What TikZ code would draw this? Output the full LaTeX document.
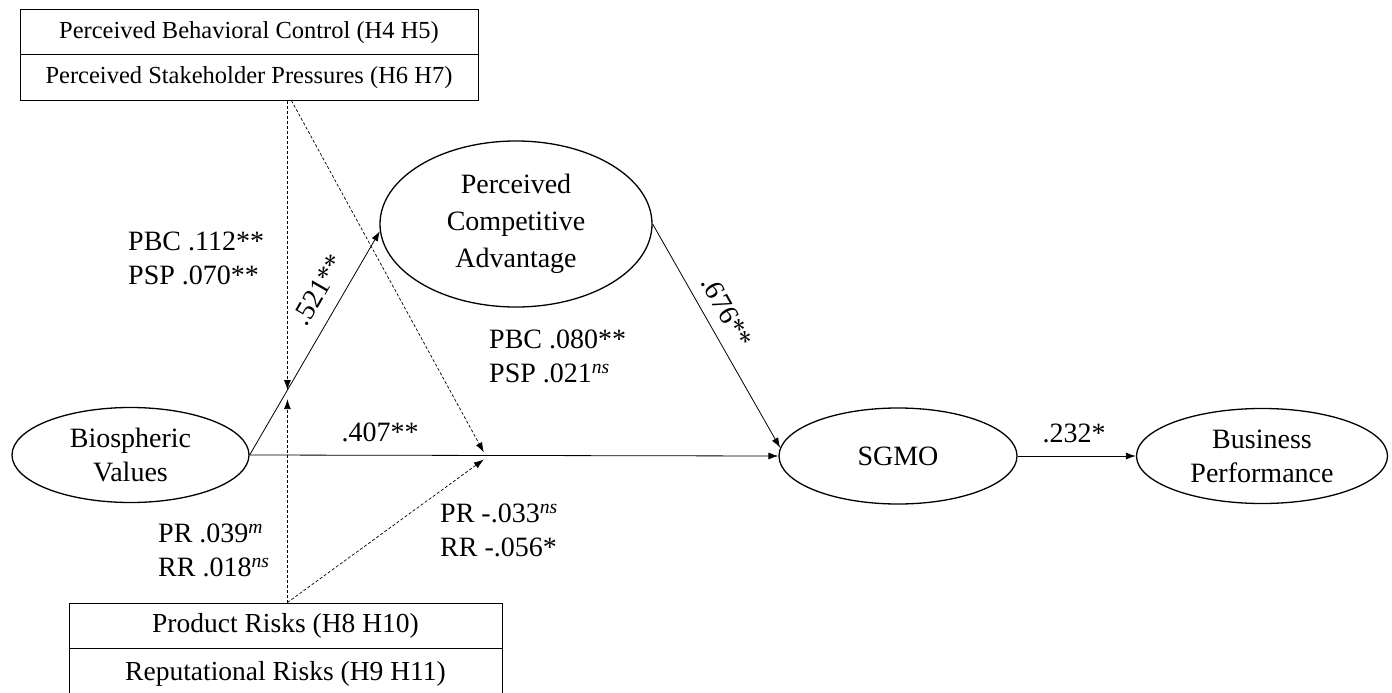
\documentclass[tikz,border=0pt]{standalone}
\usepackage{fontspec}
\setmainfont{Liberation Serif}
\usetikzlibrary{arrows.meta,shapes.geometric,calc}
\begin{document}
\begin{tikzpicture}[x=1pt,y=-1pt,
  txt/.style={font=\fontsize{28}{34}\selectfont},
  latent/.style={ellipse,draw,line width=1.3pt,inner sep=0pt,align=center,font=\fontsize{28}{34}\selectfont},
  cell/.style={draw,line width=1pt,inner sep=0pt},
  topcell/.style={cell,font=\fontsize{24.5}{30}\selectfont},
  botcell/.style={cell,font=\fontsize{27.5}{32}\selectfont},
  effect/.style={line width=0.8pt,-{Latex[length=10pt,width=7pt]}},
  moder/.style={line width=0.7pt,dash pattern=on 3pt off 2pt,-{Latex[length=10pt,width=7pt]}},
  lab/.style={txt,inner sep=0pt,align=left,anchor=west}
]
\useasboundingbox (0,0) rectangle (1392,693);
% moderator boxes
\node[topcell,minimum width=458pt,minimum height=45pt] (pbc) at (249,32.5) {Perceived Behavioral Control (H4 H5)};
\node[topcell,minimum width=458pt,minimum height=45pt] (psp) at (249,77.5) {Perceived Stakeholder Pressures (H6 H7)};
\node[botcell,minimum width=433pt,minimum height=45pt] (pr) at (285.5,625.5) {Product Risks (H8 H10)};
\node[botcell,minimum width=433pt,minimum height=52pt] (rr) at (285.5,674) {Reputational Risks (H9 H11)};
% latent variables
\node[latent,minimum width=237pt,minimum height=95pt] (bio) at (130.5,455) {Biospheric\\Values};
\node[latent,minimum width=272pt,minimum height=166pt,font=\fontsize{28}{37}\selectfont] (pca) at (516,224) {Perceived\\Competitive\\Advantage};
\node[latent,minimum width=238pt,minimum height=96pt] (sgmo) at (898,456) {SGMO};
\node[latent,minimum width=251pt,minimum height=95pt] (bp) at (1262,456) {Business\\Performance};
% main effects
\draw[effect] (bio.east) -- (pca.183);
\draw[effect] (bio.east) -- (sgmo.west);
\draw[effect] (pca.east) -- (sgmo.176);
\draw[effect] (sgmo.east) -- (bp.west);
% moderation targets
\coordinate (m1) at ($(bio.east)!0.29!(pca.183)$);
\coordinate (m1b) at ([yshift=-9pt]m1);
\coordinate (m2) at ($(bio.east)!0.443!(sgmo.west)$);
\coordinate (m2a) at ([yshift=3pt]m2);
\coordinate (m2b) at ([yshift=-4pt]m2);
\coordinate (ts) at (psp.south -| m1);
\coordinate (bs) at (pr.north -| m1);
\draw[moder] (ts) -- (m1);
\draw[moder] ([xshift=4pt]ts) -- (m2a);
\draw[moder] (bs) -- (m1b);
\draw[moder] (bs) -- (m2b);
% labels
\node[lab] (l1) at (128,258) {PBC .112**\\PSP .070**};
\node[lab] (l2) at (489,356) {PBC .080**\\PSP .021\textsuperscript{\textit{ns}}};
\node[lab] (l3) at (158,550) {PR .039\textsuperscript{\textit{m}}\\RR .018\textsuperscript{\textit{ns}}};
\node[lab] (l4) at (440,530) {PR -.033\textsuperscript{\textit{ns}}\\RR -.056*};
\node[txt,rotate=60] (e1) at (318,290) {.521**};
\node[txt] (e2) at (380,432) {.407**};
\node[txt,rotate=-61] (e3) at (727,312) {.676**};
\node[txt] (e4) at (1074,433) {.232*};
\end{tikzpicture}
\end{document}
